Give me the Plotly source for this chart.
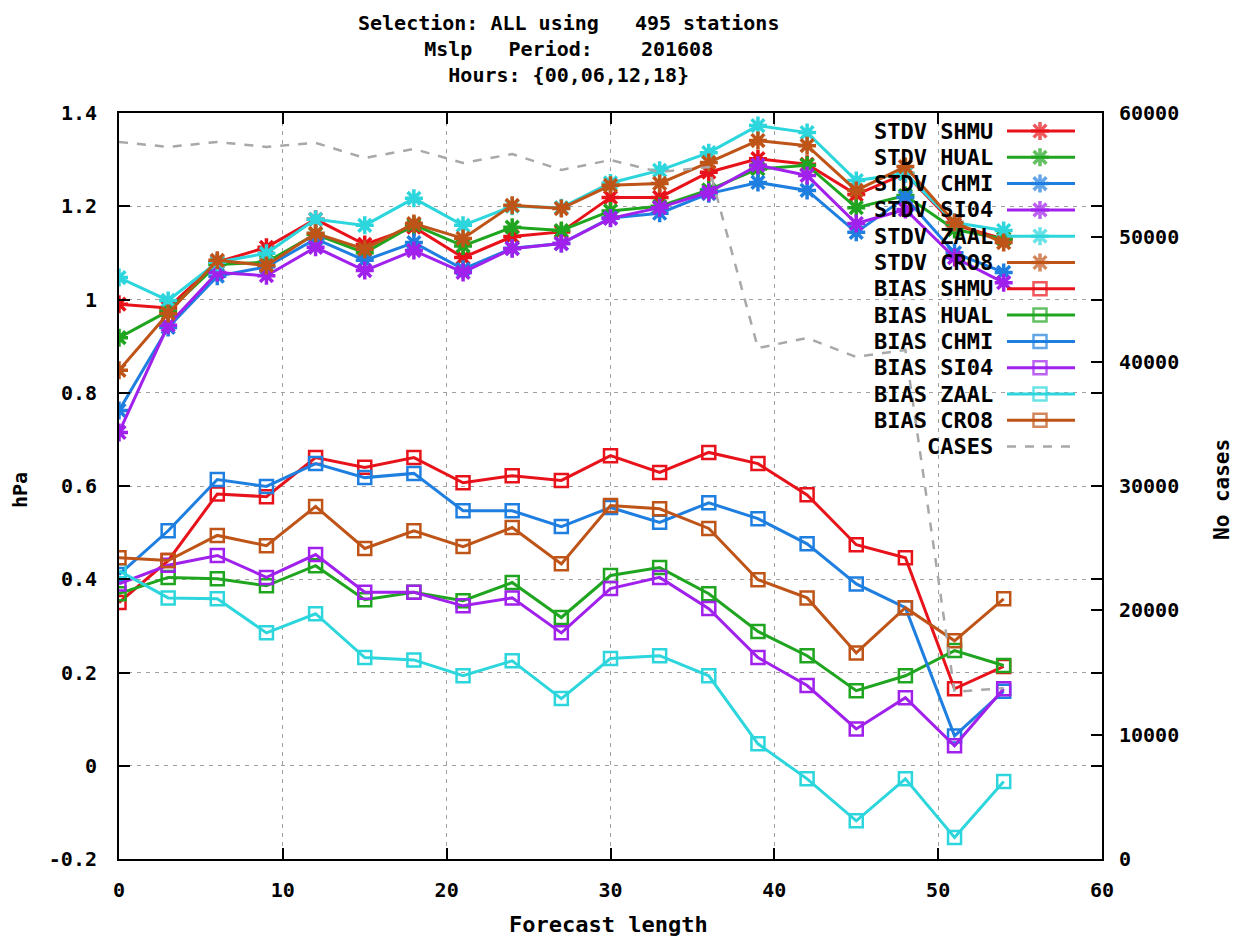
import plotly.graph_objects as go

# ---------------- data ----------------
lead = [0, 3, 6, 9, 12, 15, 18, 21, 24, 27, 30, 33, 36, 39, 42, 45, 48, 51, 54]

stdv_shmu = [0.99, 0.982, 1.08, 1.112, 1.172, 1.118, 1.155, 1.09, 1.135, 1.145, 1.219, 1.219, 1.273, 1.302, 1.29, 1.225, 1.27, 1.16, 1.13]
stdv_hual = [0.918, 0.975, 1.075, 1.08, 1.14, 1.10, 1.16, 1.115, 1.155, 1.148, 1.19, 1.2, 1.235, 1.28, 1.288, 1.197, 1.223, 1.15, 1.13]
stdv_chmi = [0.762, 0.94, 1.05, 1.07, 1.13, 1.084, 1.122, 1.065, 1.11, 1.12, 1.175, 1.185, 1.227, 1.251, 1.234, 1.144, 1.219, 1.10, 1.058]
stdv_si04 = [0.715, 0.945, 1.058, 1.051, 1.112, 1.062, 1.105, 1.058, 1.109, 1.12, 1.174, 1.197, 1.23, 1.288, 1.266, 1.163, 1.193, 1.09, 1.036]
stdv_zaal = [1.047, 0.998, 1.08, 1.099, 1.172, 1.159, 1.217, 1.159, 1.2, 1.197, 1.25, 1.277, 1.315, 1.373, 1.358, 1.255, 1.27, 1.165, 1.148]
stdv_cro8 = [0.848, 0.97, 1.084, 1.073, 1.142, 1.108, 1.163, 1.131, 1.202, 1.195, 1.245, 1.249, 1.294, 1.341, 1.33, 1.234, 1.285, 1.165, 1.122]

bias_shmu = [0.35, 0.44, 0.583, 0.577, 0.661, 0.64, 0.661, 0.607, 0.622, 0.612, 0.665, 0.629, 0.672, 0.648, 0.581, 0.474, 0.446, 0.165, 0.213]
bias_hual = [0.369, 0.404, 0.401, 0.386, 0.429, 0.356, 0.372, 0.354, 0.393, 0.318, 0.408, 0.425, 0.369, 0.288, 0.236, 0.161, 0.193, 0.247, 0.215]
bias_chmi = [0.41, 0.504, 0.614, 0.599, 0.648, 0.618, 0.627, 0.547, 0.547, 0.513, 0.554, 0.522, 0.564, 0.53, 0.476, 0.39, 0.339, 0.064, 0.16]
bias_si04 = [0.39, 0.43, 0.451, 0.404, 0.453, 0.372, 0.372, 0.343, 0.36, 0.285, 0.38, 0.404, 0.337, 0.232, 0.172, 0.079, 0.146, 0.043, 0.165]
bias_zaal = [0.418, 0.36, 0.358, 0.285, 0.326, 0.232, 0.227, 0.193, 0.225, 0.144, 0.23, 0.236, 0.193, 0.047, -0.028, -0.118, -0.028, -0.154, -0.034]
bias_cro8 = [0.446, 0.44, 0.494, 0.472, 0.556, 0.466, 0.504, 0.47, 0.511, 0.433, 0.558, 0.551, 0.509, 0.399, 0.36, 0.242, 0.339, 0.268, 0.358]

cases = [57670, 57270, 57670, 57270, 57600, 56380, 57110, 55980, 56700, 55420, 56220, 55250, 55650, 41100, 41900, 40380, 40940, 13430, 13750]

stations = ["SHMU", "HUAL", "CHMI", "SI04", "ZAAL", "CRO8"]
colors = ["#e8121a", "#1fa51f", "#1f7fe0", "#a020ec", "#2cd6dc", "#bf5418"]
stdv_series = [stdv_shmu, stdv_hual, stdv_chmi, stdv_si04, stdv_zaal, stdv_cro8]
bias_series = [bias_shmu, bias_hual, bias_chmi, bias_si04, bias_zaal, bias_cro8]

y_ticks = [-0.2, 0, 0.2, 0.4, 0.6, 0.8, 1.0, 1.2, 1.4]
y_ticktext = ["-0.2", "0", "0.2", "0.4", "0.6", "0.8", "1", "1.2", "1.4"]
x_ticks = [0, 10, 20, 30, 40, 50, 60]
y2_ticks = [0, 10000, 20000, 30000, 40000, 50000, 60000]

title_lines = ["Selection: ALL using   495 stations",
               "Mslp   Period:    201608",
               "Hours: {00,06,12,18}"]

# ---------------- figure ----------------
FONT = "DejaVu Sans Mono"
W, H = 1237, 936
L, R, T, B = 119, 1102, 113, 859   # plot area in pixels
CASES_COLOR = "#a8a8a8"

fig = go.Figure()

names, styles = [], []
for st, col, ys in zip(stations, colors, stdv_series):
    fig.add_trace(go.Scatter(
        x=lead, y=ys, mode="lines+markers", name="STDV " + st,
        line=dict(color=col, width=3),
        marker=dict(symbol="asterisk-open", size=15, line=dict(color=col, width=3.5)),
        showlegend=False))
    names.append("STDV " + st); styles.append(("asterisk-open", col))
for st, col, ys in zip(stations, colors, bias_series):
    fig.add_trace(go.Scatter(
        x=lead, y=ys, mode="lines+markers", name="BIAS " + st,
        line=dict(color=col, width=3),
        marker=dict(symbol="square-open", size=13, line=dict(color=col, width=2.5)),
        showlegend=False))
    names.append("BIAS " + st); styles.append(("square-open", col))

fig.add_trace(go.Scatter(
    x=lead, y=cases, mode="lines", name="CASES", yaxis="y2",
    line=dict(color=CASES_COLOR, width=2.5, dash="9px,9px"),
    showlegend=False))

# ---------- custom gnuplot-style key (text left of sample) ----------
key_x_text = 995
key_x0, key_xm, key_x1 = 1007, 1040, 1075
key_y0, key_dy = 131, 26.3
for i, (nm, (sym, col)) in enumerate(zip(names, styles)):
    ky = key_y0 + i * key_dy
    fig.add_trace(go.Scatter(
        x=[key_x0, key_xm, key_x1], y=[ky, ky, ky], xaxis="x3", yaxis="y3",
        mode="lines+markers", line=dict(color=col, width=3),
        marker=dict(symbol=sym, size=[0, 15 if sym.startswith("ast") else 13, 0],
                    line=dict(color=col, width=3.5 if sym.startswith("ast") else 2.5)),
        showlegend=False, hoverinfo="skip", cliponaxis=False))
    fig.add_annotation(x=key_x_text, y=ky, xref="x3", yref="y3", text=nm,
                       showarrow=False, xanchor="right", yanchor="middle",
                       font=dict(family=FONT, size=22, color="black", weight="bold"))
ky = key_y0 + len(names) * key_dy
fig.add_trace(go.Scatter(
    x=[key_x0, key_x1], y=[ky, ky], xaxis="x3", yaxis="y3", mode="lines",
    line=dict(color=CASES_COLOR, width=2.5, dash="9px,9px"),
    showlegend=False, hoverinfo="skip", cliponaxis=False))
fig.add_annotation(x=key_x_text, y=ky, xref="x3", yref="y3", text="CASES",
                   showarrow=False, xanchor="right", yanchor="middle",
                   font=dict(family=FONT, size=22, color="black", weight="bold"))

def px_x(p):
    return (p - L) / (R - L)

def px_y(p):
    return (B - p) / (B - T)

# title
fig.add_annotation(x=px_x(568), y=px_y(9), xref="paper", yref="paper",
                   text="<br>".join(t.replace(" ", "\u00a0") for t in title_lines),
                   showarrow=False, xanchor="center", yanchor="top", align="center",
                   font=dict(family=FONT, size=20, color="black", weight="bold"))
# axis titles
fig.add_annotation(x=px_x(20), y=px_y(490), xref="paper", yref="paper", text="hPa",
                   textangle=-90, showarrow=False, xanchor="center", yanchor="middle",
                   font=dict(family=FONT, size=20, color="black", weight="bold"))
fig.add_annotation(x=px_x(1222), y=px_y(490), xref="paper", yref="paper",
                   text="No\u00a0cases", textangle=-90, showarrow=False,
                   xanchor="center", yanchor="middle",
                   font=dict(family=FONT, size=21, color="black", weight="bold"))
fig.add_annotation(x=px_x(608), y=px_y(924), xref="paper", yref="paper",
                   text="Forecast\u00a0length", showarrow=False,
                   xanchor="center", yanchor="middle",
                   font=dict(family=FONT, size=22, color="black", weight="bold"))

tickfont = dict(family=FONT, size=20, color="black", weight="bold")
gridcol = "#a0a0a0"

fig.update_layout(
    width=W, height=H,
    margin=dict(l=L, r=W - R, t=T, b=H - B, pad=0),
    paper_bgcolor="white", plot_bgcolor="white",
    showlegend=False,
    xaxis=dict(range=[0, 60], tickvals=x_ticks, ticktext=[str(v) for v in x_ticks],
               showgrid=True, gridcolor=gridcol, griddash="4px,5px", gridwidth=1,
               zeroline=False, showline=True, linecolor="black", linewidth=2,
               mirror="ticks", ticks="inside", ticklen=11, tickwidth=1.5,
               tickcolor="black", tickfont=tickfont, ticklabelstandoff=12),
    yaxis=dict(range=[-0.2, 1.4], tickvals=y_ticks, ticktext=y_ticktext,
               showgrid=True, gridcolor=gridcol, griddash="4px,5px", gridwidth=1,
               zeroline=False, showline=True, linecolor="black", linewidth=2,
               mirror="ticks", ticks="inside", ticklen=11, tickwidth=1.5,
               tickcolor="black", tickfont=tickfont, ticklabelstandoff=16),
    yaxis2=dict(range=[0, 60000], tickvals=y2_ticks, ticktext=[str(v) for v in y2_ticks],
                overlaying="y", side="right", showgrid=False, zeroline=False,
                showline=False, ticks="inside", ticklen=11, tickwidth=1.5,
                tickcolor="black", tickfont=tickfont, ticklabelstandoff=16),
    xaxis3=dict(range=[L, R], overlaying="x", visible=False, fixedrange=True),
    yaxis3=dict(range=[B, T], overlaying="y", visible=False, fixedrange=True),
)

fig.write_html("out.html", config={"displayModeBar": False},
               post_script="document.body.style.margin='0';document.body.style.overflow='hidden';")
